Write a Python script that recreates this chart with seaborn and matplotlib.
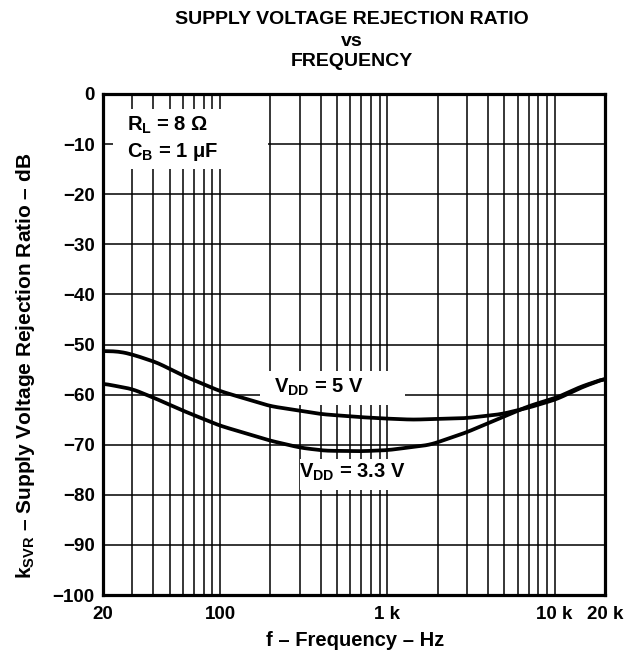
import numpy as np
import pandas as pd
import matplotlib
matplotlib.use("Agg")
import matplotlib.pyplot as plt
import seaborn as sns
from matplotlib.patches import Rectangle
from matplotlib.ticker import FixedLocator, NullFormatter

# ---- data ----
freq_5v = [20, 25, 30, 42, 61, 100, 200, 405, 690, 1000, 1420, 2940, 4800, 7000, 10300, 14400, 20000]
svr_5v = [-51.3, -51.4, -52.0, -53.6, -56.3, -59.3, -62.3, -63.9, -64.5, -64.8, -65.0, -64.7, -63.9, -62.6, -60.9, -58.6, -56.8]

freq_33v = [20, 30, 42, 61, 100, 200, 303, 424, 690, 1000, 1810, 2940, 4800, 7000, 10300, 14400, 20000]
svr_33v = [-57.8, -58.9, -60.9, -63.3, -66.2, -69.2, -70.6, -71.2, -71.3, -71.1, -70.0, -67.6, -64.6, -62.3, -60.6, -58.4, -56.8]

x_ticks = [20, 100, 1000, 10000, 20000]
x_ticklabels = ["20", "100", "1 k", "10 k", "20 k"]
y_ticks = list(range(-100, 1, 10))
y_ticklabels = ["\u2212100", "\u221290", "\u221280", "\u221270", "\u221260", "\u221250",
                "\u221240", "\u221230", "\u221220", "\u221210", "0"]
grid_freqs = [30, 40, 50, 60, 70, 80, 90, 100, 200, 300, 400, 500, 600, 700, 800, 900,
              1000, 2000, 3000, 4000, 5000, 6000, 7000, 8000, 9000, 10000]
title_lines = ["SUPPLY VOLTAGE REJECTION RATIO", "vs", "FREQUENCY"]

df = pd.concat([
    pd.DataFrame({"f": freq_5v, "svr": svr_5v, "s": "5V"}),
    pd.DataFrame({"f": freq_33v, "svr": svr_33v, "s": "3.3V"}),
])

sns.set_theme(style="white")
plt.rcParams["font.family"] = ["Liberation Sans", "DejaVu Sans"]
plt.rcParams["font.weight"] = "bold"
plt.rcParams["mathtext.fontset"] = "custom"
plt.rcParams["mathtext.rm"] = "Liberation Sans:bold"
plt.rcParams["mathtext.it"] = "Liberation Sans:bold"
plt.rcParams["mathtext.bf"] = "Liberation Sans:bold"
for key in ["text.color", "axes.labelcolor", "xtick.color", "ytick.color",
            "xtick.labelcolor", "ytick.labelcolor"]:
    plt.rcParams[key] = "black"

fig = plt.figure(figsize=(6.34, 6.61), dpi=100)
ax = fig.add_axes([103/634, 1-595/661, 502/634, 501/661])
ax.set_xscale("log")

# smooth curves through the read points (drawn in log-f)
for name in ["5V", "3.3V"]:
    sub = df[df.s == name]
    lf = np.log10(sub.f.values)
    fine = np.linspace(lf.min(), lf.max(), 300)
    yv = np.interp(fine, lf, sub.svr.values)
    k = 9
    pad = np.pad(yv, k // 2, mode="edge")
    yv = np.convolve(pad, np.ones(k) / k, mode="valid")
    sns.lineplot(x=10**fine, y=yv, ax=ax, color="black", linewidth=2.7, zorder=5, sort=False)

ax.set_xlim(20, 20000)
ax.set_ylim(-100, 0)

# grid
for g in grid_freqs:
    ax.axvline(g, color="black", linewidth=1.1, zorder=1)
for yv_ in y_ticks[1:-1]:
    ax.axhline(yv_, color="black", linewidth=1.1, zorder=1)

ax.xaxis.set_minor_locator(FixedLocator([]))
ax.xaxis.set_minor_formatter(NullFormatter())
ax.set_xticks(x_ticks)
ax.set_xticklabels(x_ticklabels, fontsize=13.5, fontweight="bold", color="black")
ax.set_yticks(y_ticks)
ax.set_yticklabels(y_ticklabels, fontsize=13.5, fontweight="bold", color="black")
ax.tick_params(axis="both", length=0, pad=6)
ax.tick_params(axis="x", pad=8)

for sp in ax.spines.values():
    sp.set_visible(True)
    sp.set_color("black")
    sp.set_linewidth(2.3)
    sp.set_zorder(10)

# white label boxes
ax.add_patch(Rectangle((23.0, -15.0), 194 - 23.0, 12.1, facecolor="white", edgecolor="none", zorder=2))
ax.add_patch(Rectangle((174, -62.1), 1278 - 174, 6.8, facecolor="white", edgecolor="none", zorder=2))
ax.add_patch(Rectangle((300, -79.0), 1291 - 300, 6.1, facecolor="white", edgecolor="none", zorder=2))

fs_ann = 14.5
ax.text(27.7, -6.2, r"R$_\mathregular{L}$ = 8 $\Omega$", fontsize=fs_ann, fontweight="bold", va="center", ha="left", zorder=6, color="black")
ax.text(27.7, -11.6, "C$_\\mathregular{B}$ = 1 \u03bcF", fontsize=fs_ann, fontweight="bold", va="center", ha="left", zorder=6, color="black")
ax.text(389, -58.6, "V$_\\mathregular{DD}$ = 5 V", fontsize=fs_ann, fontweight="bold", va="center", ha="center", zorder=6, color="black")
ax.text(619, -75.6, "V$_\\mathregular{DD}$ = 3.3 V", fontsize=fs_ann, fontweight="bold", va="center", ha="center", zorder=6, color="black")

ax.set_xlabel("f \u2013 Frequency \u2013 Hz", fontsize=14.5, fontweight="bold", va="center", color="black")
ax.xaxis.set_label_coords((355 - 103) / 502, (595 - 640) / 501)
ax.set_ylabel("k$_\\mathregular{SVR}$ \u2013 Supply Voltage Rejection Ratio \u2013 dB", fontsize=15, fontweight="bold", va="center", color="black")
ax.yaxis.set_label_coords((25.5 - 103) / 502, (595 - 366) / 501)

for txt, yc in zip(title_lines, [19.5, 41, 61.5]):
    fig.text(352/634, 1 - yc/661, txt, ha="center", va="center", fontsize=14, fontweight="bold", color="black")

fig.savefig("out.png", dpi=100, facecolor="white")
